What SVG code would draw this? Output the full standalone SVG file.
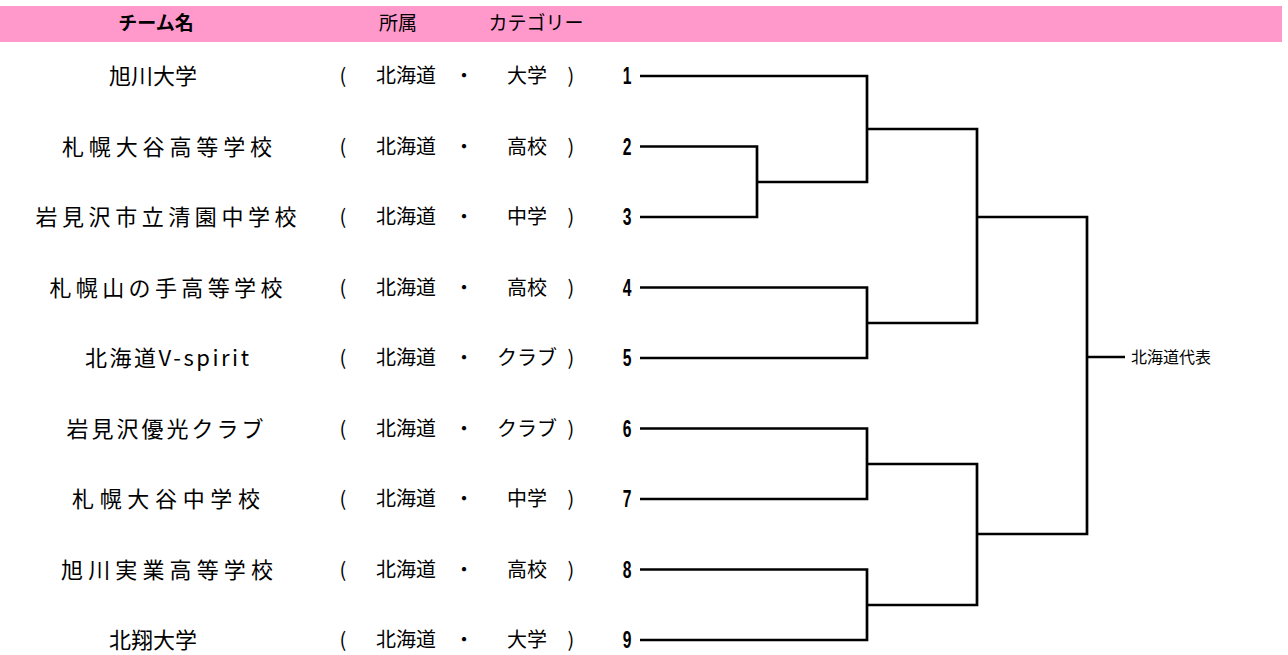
<svg xmlns="http://www.w3.org/2000/svg" width="1288" height="655" viewBox="0 0 1288 655">
<style>
.hdr{font-family:"Noto Sans CJK JP","Noto Sans",sans-serif;font-size:19px;fill:#000;text-anchor:middle}
.hb{font-weight:bold}
.nm{font-family:"Noto Sans CJK JP","Noto Sans",sans-serif;font-size:20px;fill:#000;text-anchor:middle}
.tn{font-size:22px}
.num{font-family:"Liberation Sans","DejaVu Sans",sans-serif;font-weight:bold;font-size:23px;fill:#000;text-anchor:middle}
.ln{fill:none;stroke:#000;stroke-width:2.7}
</style>
<rect x="0" y="6" width="1282" height="36" fill="#ff99cc"/>
<g id="header">
<text class="hdr hb" x="156" y="30">チーム名</text>
<text class="hdr" x="398" y="30">所属</text>
<text class="hdr" x="536" y="30">カテゴリー</text>
</g>
<g id="team1"><text class="nm tn" x="153" y="84">旭川大学</text><text class="nm" x="343" y="83">(</text><text class="nm" x="406" y="83">北海道</text><text class="nm" x="464" y="83">・</text><text class="nm" x="527" y="83">大学</text><text class="nm" x="571" y="83">)</text><text class="num" transform="translate(627,84) scale(0.68,1)">1</text></g>
<g id="team2"><text class="nm tn" x="167" y="154.5" textLength="210" lengthAdjust="spacing">札幌大谷高等学校</text><text class="nm" x="343" y="153.5">(</text><text class="nm" x="406" y="153.5">北海道</text><text class="nm" x="464" y="153.5">・</text><text class="nm" x="527" y="153.5">高校</text><text class="nm" x="571" y="153.5">)</text><text class="num" transform="translate(627,154.5) scale(0.68,1)">2</text></g>
<g id="team3"><text class="nm tn" x="166" y="225" textLength="261" lengthAdjust="spacing">岩見沢市立清園中学校</text><text class="nm" x="343" y="224">(</text><text class="nm" x="406" y="224">北海道</text><text class="nm" x="464" y="224">・</text><text class="nm" x="527" y="224">中学</text><text class="nm" x="571" y="224">)</text><text class="num" transform="translate(627,225) scale(0.68,1)">3</text></g>
<g id="team4"><text class="nm tn" x="166" y="295.5" textLength="233" lengthAdjust="spacing">札幌山の手高等学校</text><text class="nm" x="343" y="294.5">(</text><text class="nm" x="406" y="294.5">北海道</text><text class="nm" x="464" y="294.5">・</text><text class="nm" x="527" y="294.5">高校</text><text class="nm" x="571" y="294.5">)</text><text class="num" transform="translate(627,295.5) scale(0.68,1)">4</text></g>
<g id="team5"><text class="nm tn" x="167" y="366" textLength="164" lengthAdjust="spacing">北海道V-spirit</text><text class="nm" x="343" y="365">(</text><text class="nm" x="406" y="365">北海道</text><text class="nm" x="464" y="365">・</text><text class="nm" x="527" y="365">クラブ</text><text class="nm" x="571" y="365">)</text><text class="num" transform="translate(627,366) scale(0.68,1)">5</text></g>
<g id="team6"><text class="nm tn" x="165" y="436.5" textLength="197" lengthAdjust="spacing">岩見沢優光クラブ</text><text class="nm" x="343" y="435.5">(</text><text class="nm" x="406" y="435.5">北海道</text><text class="nm" x="464" y="435.5">・</text><text class="nm" x="527" y="435.5">クラブ</text><text class="nm" x="571" y="435.5">)</text><text class="num" transform="translate(627,436.5) scale(0.68,1)">6</text></g>
<g id="team7"><text class="nm tn" x="166" y="507" textLength="188" lengthAdjust="spacing">札幌大谷中学校</text><text class="nm" x="343" y="506">(</text><text class="nm" x="406" y="506">北海道</text><text class="nm" x="464" y="506">・</text><text class="nm" x="527" y="506">中学</text><text class="nm" x="571" y="506">)</text><text class="num" transform="translate(627,507) scale(0.68,1)">7</text></g>
<g id="team8"><text class="nm tn" x="167" y="577.5" textLength="212" lengthAdjust="spacing">旭川実業高等学校</text><text class="nm" x="343" y="576.5">(</text><text class="nm" x="406" y="576.5">北海道</text><text class="nm" x="464" y="576.5">・</text><text class="nm" x="527" y="576.5">高校</text><text class="nm" x="571" y="576.5">)</text><text class="num" transform="translate(627,577.5) scale(0.68,1)">8</text></g>
<g id="team9"><text class="nm tn" x="153" y="648">北翔大学</text><text class="nm" x="343" y="647">(</text><text class="nm" x="406" y="647">北海道</text><text class="nm" x="464" y="647">・</text><text class="nm" x="527" y="647">大学</text><text class="nm" x="571" y="647">)</text><text class="num" transform="translate(627,648) scale(0.68,1)">9</text></g>
<g id="winner"><text class="nm" x="1131" y="363" style="text-anchor:start;font-size:16px">北海道代表</text></g>
<g id="connectors">
<path class="ln" d="M640,76 H867 V182 H757"/>
<path class="ln" d="M640,146.5 H757 V217 H640"/>
<path class="ln" d="M867,129 H977 V323 H867"/>
<path class="ln" d="M640,287.5 H867 V358 H640"/>
<path class="ln" d="M977,217 H1087 V534 H977"/>
<path class="ln" d="M1087,357 H1125"/>
<path class="ln" d="M640,428.5 H867 V499 H640"/>
<path class="ln" d="M867,464 H977 V605 H867"/>
<path class="ln" d="M640,569.5 H867 V640 H640"/>
</g>
</svg>
